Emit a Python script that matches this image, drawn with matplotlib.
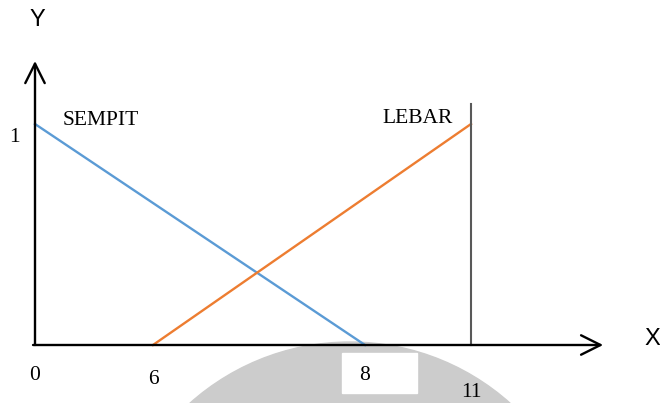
import numpy as np
import matplotlib
matplotlib.use("Agg")
import matplotlib.pyplot as plt
from matplotlib.patches import Ellipse, Rectangle

# membership lines
sempit_x = [0, 8]
sempit_y = [1, 0]
lebar_x = [6, 11]
lebar_y = [0, 1]
tick_vals = [0, 6, 8, 11]
tick_labels = ["0", "6", "8", "11"]

# the drawing is not to scale: map x values onto the hand-drawn positions
src = np.array([-100, 0, 6, 8, 11, 100], dtype=float)
dst = np.array([35 - 100 * 118 / 6, 35, 153, 365, 471, 471 + 89 * 106 / 3])


def fwd(x):
    return np.interp(x, src, dst)


def inv(p):
    return np.interp(p, dst, src)


fig = plt.figure(figsize=(6.6, 4.03), dpi=100)
ax = fig.add_axes([0, 0, 1, 1])
ax.set_xscale("function", functions=(fwd, inv))
ax.set_xlim(inv(0), inv(660))
ax.set_ylim(-(403 - 345) / 221, 345 / 221)
ax.axis("off")

# faint watermark behind the chart, and the white patch behind "8"
ax.add_artist(Ellipse((350 / 660, 1 - 582 / 403), 480 / 660, 480 / 403,
                      transform=fig.transFigure, color="#cccccc", zorder=0.5))
ax.add_artist(Rectangle((342 / 660, 1 - 393 / 403), 75 / 660, 40 / 403,
                        transform=fig.transFigure, color="white", zorder=1))

ax.plot(sempit_x, sempit_y, color="#5b9bd5", lw=1.7, zorder=3)
ax.plot(lebar_x, lebar_y, color="#ed7d31", lw=1.7, zorder=3)
ax.plot([11, 11], [0, 1.09], color="#595959", lw=1.5, zorder=3)

arrow = dict(arrowstyle="->,head_length=1.0,head_width=0.5", lw=1.7,
             color="black", mutation_scale=14, shrinkA=0, shrinkB=0)
ax.annotate("", xy=(0, 1.285), xytext=(0, 0), arrowprops=arrow, zorder=4)
ax.annotate("", xy=(14.74, 0), xytext=(-0.1, 0), arrowprops=arrow, zorder=4)

serif = dict(family="Liberation Serif", fontsize=15.5)
label_y = [-0.14, -0.158, -0.136, -0.217]
for v, lab, ly in zip(tick_vals, tick_labels, label_y):
    ax.text(v, ly, lab, ha="center", va="center", zorder=5, **serif)
ax.text(-1.05, 0.937, "1", ha="center", va="center", **serif)

ax.text(1.42, 1.014, "SEMPIT", ha="left", va="center", **serif)
ax.text(8.48, 1.023, "LEBAR", ha="left", va="center", **serif)

ax.text(0.1, 1.47, "Y", ha="center", va="center", family="Liberation Sans", fontsize=17)
ax.text(16.12, 0.027, "X", ha="center", va="center", family="Liberation Sans", fontsize=17)

fig.savefig("out.png", dpi=100)
